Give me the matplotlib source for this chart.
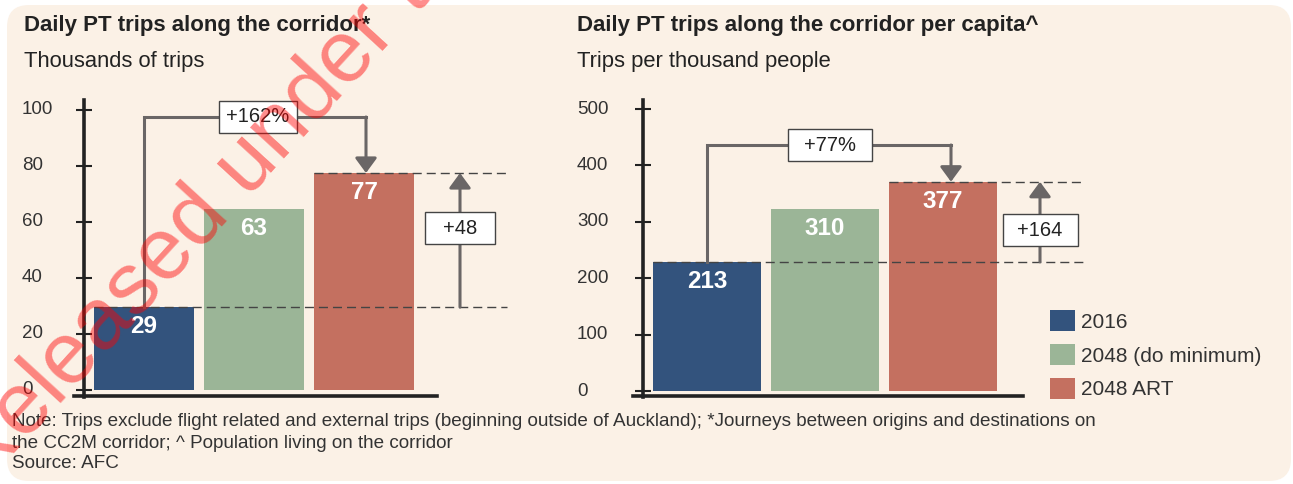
import matplotlib
matplotlib.use('Agg')
import matplotlib.pyplot as plt
from matplotlib.patches import FancyBboxPatch, Patch, Rectangle
from matplotlib.transforms import blended_transform_factory

plt.rcParams['font.family'] = ['Liberation Sans', 'DejaVu Sans']

# ---- data ----
categories = ['2016', '2048 (do minimum)', '2048 ART']
bar_colors = ['#33537D', '#9BB597', '#C47060']

trips = [29.6, 64.6, 77.5]            # bar heights as drawn
trips_labels = ['29', '63', '77']
trips_ticks = [0, 20, 40, 60, 80, 100]
trips_growth = '+162%'
trips_diff = '+48'

percap = [229, 322, 371]              # bar heights as drawn
percap_labels = ['213', '310', '377']
percap_ticks = [0, 100, 200, 300, 400, 500]
percap_growth = '+77%'
percap_diff = '+164'

titles = ['Daily PT trips along the corridor*',
          'Daily PT trips along the corridor per capita^']
subtitles = ['Thousands of trips', 'Trips per thousand people']
notes = ['Note: Trips exclude flight related and external trips (beginning outside of Auckland); '
         '*Journeys between origins and destinations on',
         'the CC2M corridor; ^ Population living on the corridor',
         'Source: AFC']
watermark = 'Released under the Official Information Act'

W, H = 1293, 484
fig = plt.figure(figsize=(W / 100, H / 100), dpi=100)
fig.patch.set_facecolor('white')

bg = fig.add_axes([0, 0, 1, 1])
bg.set_xlim(0, W)
bg.set_ylim(H, 0)
bg.axis('off')
bg.add_patch(FancyBboxPatch((7, 5), 1284, 476, boxstyle='round,pad=0,rounding_size=22',
                            fc='#FBF1E6', ec='none'))

dark = '#222222'
grey = '#6A6666'

# geometry of each panel in pixels
panels = [
    dict(vals=trips, labels=trips_labels, ticks=trips_ticks, growth=trips_growth, diff=trips_diff,
         x0=60, x1=540, xc0=144, xs=110, yz=390, ys=2.8, axis_x=84, base=(74, 437),
         dash_end=507, arrow_x=460, diff_y=228, br_top=117, br_right=366, gx=258,
         gbox=(78, 32), dbox=(70, 32), tick_x=22),
    dict(vals=percap, labels=percap_labels, ticks=percap_ticks, growth=percap_growth, diff=percap_diff,
         x0=620, x1=1100, xc0=707, xs=118, yz=391, ys=0.564, axis_x=643, base=(633, 1023),
         dash_end=1085, arrow_x=1040, diff_y=230, br_top=145, br_right=951, gx=830,
         gbox=(84, 32), dbox=(75, 32), tick_x=577),
]

y0, y1 = 90, 400
for p in panels:
    xs, ys, xc0, yz = p['xs'], p['ys'], p['xc0'], p['yz']
    px_x = lambda v: (v - xc0) / xs
    px_y = lambda v: (yz - v) / ys
    ax = fig.add_axes([p['x0'] / W, 1 - y1 / H, (p['x1'] - p['x0']) / W, (y1 - y0) / H])
    ax.set_xlim(px_x(p['x0']), px_x(p['x1']))
    ax.set_ylim(px_y(y1), px_y(y0))
    ax.patch.set_visible(False)

    x = range(len(p['vals']))
    ax.bar(x, p['vals'], width=0.91, color=bar_colors, zorder=2)
    for i, (v, lab) in enumerate(zip(p['vals'], p['labels'])):
        ax.annotate(lab, (i, v), xytext=(0, -14), textcoords='offset points', ha='center',
                    va='center', color='white', fontsize=17.5, fontweight='bold', zorder=5)

    # axes lines
    for s in ['top', 'right']:
        ax.spines[s].set_visible(False)
    ax.spines['left'].set_position(('data', px_x(p['axis_x'])))
    ax.spines['left'].set_bounds(px_y(397), px_y(100))
    ax.spines['bottom'].set_position(('data', px_y(396)))
    ax.spines['bottom'].set_bounds(px_x(p['base'][0]), px_x(p['base'][1]))
    for s in ['left', 'bottom']:
        ax.spines[s].set_linewidth(2.6)
        ax.spines[s].set_color(dark)
        ax.spines[s].set_zorder(4)
    ax.set_xticks([])
    ax.set_yticks(p['ticks'])
    ax.set_yticklabels([])
    ax.tick_params(axis='y', direction='inout', length=11, width=1.5, color=dark)
    tr = blended_transform_factory(fig.transFigure, ax.transData)
    for t in p['ticks']:
        fig.text(p['tick_x'] / W, t, str(t), transform=tr, ha='left', va='center',
                 fontsize=13.5, color='#333333')

    v0, v2 = p['vals'][0], p['vals'][2]
    xe = px_x(p['dash_end'])
    ax.plot([-0.455, xe], [v0, v0], color='#444444', lw=1, ls=(0, (6.5, 3.6)), zorder=3)
    ax.plot([2 - 0.455, xe], [v2, v2], color='#444444', lw=1, ls=(0, (6.5, 3.6)), zorder=3)

    # difference arrow
    ax_x = px_x(p['arrow_x'])
    ax.annotate('', xy=(ax_x, v2), xytext=(ax_x, v0),
                arrowprops=dict(arrowstyle='-|>,head_length=0.45,head_width=0.33', lw=2.2,
                                color=grey, shrinkA=0, shrinkB=0, mutation_scale=20), zorder=3)
    dw, dh = p['dbox'][0] / xs, p['dbox'][1] / ys
    dy = px_y(p['diff_y'])
    ax.add_patch(Rectangle((ax_x - dw / 2, dy - dh / 2), dw, dh, fc='white', ec='#444444',
                           lw=1, zorder=4))
    ax.text(ax_x, dy, p['diff'], ha='center', va='center', fontsize=14.5, color=dark, zorder=5)

    # growth bracket
    top = px_y(p['br_top'])
    br = px_x(p['br_right'])
    ax.plot([0, 0, br], [v0, top, top], color=grey, lw=2.2, solid_joinstyle='miter',
            solid_capstyle='projecting', zorder=3)
    ax.annotate('', xy=(br, v2), xytext=(br, top),
                arrowprops=dict(arrowstyle='-|>,head_length=0.45,head_width=0.33', lw=2.2,
                                color=grey, shrinkA=0, shrinkB=0, mutation_scale=20), zorder=3)
    gx = px_x(p['gx'])
    gw, gh = p['gbox'][0] / xs, p['gbox'][1] / ys
    ax.add_patch(Rectangle((gx - gw / 2, top - gh / 2), gw, gh, fc='white', ec='#444444',
                           lw=1, zorder=4))
    ax.text(gx, top, p['growth'], ha='center', va='center', fontsize=14.5, color=dark, zorder=5)

# titles
for xt, t, st in zip([24, 577], titles, subtitles):
    fig.text(xt / W, 1 - 26 / H, t, ha='left', va='center', fontsize=16, fontweight='bold',
             color=dark)
    fig.text(xt / W, 1 - 62 / H, st, ha='left', va='center', fontsize=15.8, color=dark)

# legend
handles = [Patch(facecolor=c, edgecolor='none') for c in bar_colors]
fig.legend(handles, categories, loc='upper left', bbox_to_anchor=(1050 / W, 1 - 310 / H),
           frameon=False, fontsize=15, handlelength=1.2, handleheight=1.2, handletextpad=0.3,
           labelspacing=0.58, borderpad=0, borderaxespad=0, labelcolor='#333333')

# notes
for yy, n in zip([421, 443, 464], notes):
    fig.text(12 / W, 1 - yy / H, n, ha='left', va='center', fontsize=13.6, color='#333333')

# watermark
fig.text(-19 / W, 1 - 489 / H, watermark, rotation=47.5, rotation_mode='anchor', ha='left',
         va='baseline', fontsize=63, color='red', alpha=0.45, zorder=10)

fig.savefig('out.png', dpi=100)
